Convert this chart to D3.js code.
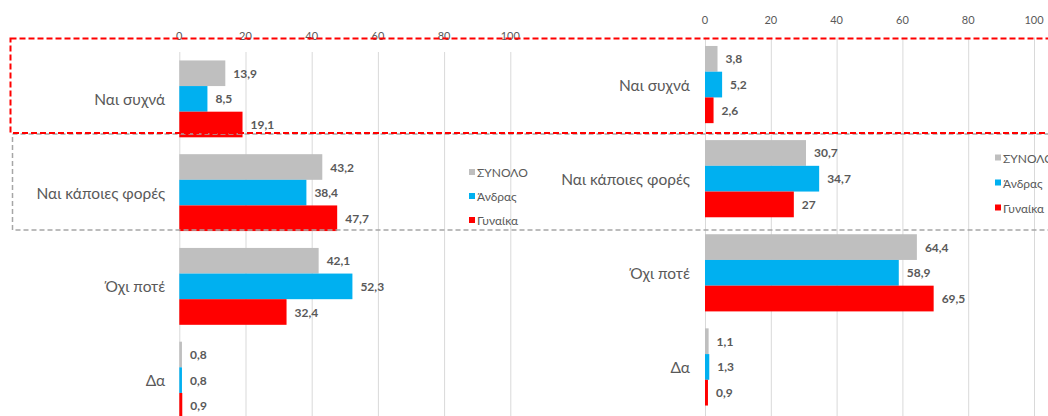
<!DOCTYPE html>
<html>
<head>
<meta charset="utf-8">
<script src="https://cdn.jsdelivr.net/npm/d3@7/dist/d3.min.js"></script>
<style>
  html, body { margin: 0; padding: 0; background: #ffffff; overflow: hidden; }
  svg { display: block; font-family: Lato, "Open Sans", "Noto Sans", sans-serif; }
</style>
</head>
<body>
<svg id="chart" width="1048" height="416"></svg>
<script>
const categories = ["Ναι συχνά", "Ναι κάποιες φορές", "Όχι ποτέ", "Δα"];
const seriesNames = ["ΣΥΝΟΛΟ", "Άνδρας", "Γυναίκα"];
const seriesColors = ["#bfbfbf", "#00b0f0", "#ff0000"];
const tickValues = [0, 20, 40, 60, 80, 100];

// left panel
const leftTotal = [13.9, 43.2, 42.1, 0.8];
const leftMen = [8.5, 38.4, 52.3, 0.8];
const leftWomen = [19.1, 47.7, 32.4, 0.9];
// right panel
const rightTotal = [3.8, 30.7, 64.4, 1.1];
const rightMen = [5.2, 34.7, 58.9, 1.3];
const rightWomen = [2.6, 27, 69.5, 0.9];

const svg = d3.select("#chart");
const fmt = v => String(v).replace(".", ",");

function panel(cfg) {
  const g = svg.append("g");
  const x = d3.scaleLinear().domain([0, 100]).range([cfg.x0, cfg.x1]);
  const y = d3.scaleBand().domain(categories).range([cfg.yTop, cfg.yBot])
    .paddingInner(0.18).paddingOuter(0.09);
  const sub = d3.scaleBand().domain(seriesNames).range([0, y.bandwidth()]);
  const series = cfg.series;

  // gridlines
  g.append("g").selectAll("line").data(tickValues).join("line")
    .attr("x1", d => x(d) + 0.5).attr("x2", d => x(d) + 0.5)
    .attr("y1", cfg.yTop).attr("y2", 416)
    .attr("stroke", "#d9d9d9").attr("stroke-width", 1);

  // tick labels
  g.append("g").selectAll("text").data(tickValues).join("text")
    .attr("x", d => x(d)).attr("y", cfg.tickY)
    .attr("text-anchor", "middle").attr("dominant-baseline", "central")
    .attr("font-size", 11).attr("fill", "#595959")
    .text(d => d);

  // bars
  seriesNames.forEach((s, si) => {
    const gs = g.append("g");
    gs.selectAll("rect").data(categories).join("rect")
      .attr("x", x(0))
      .attr("y", c => y(c) + sub(s))
      .attr("width", (c, i) => x(series[si][i]) - x(0))
      .attr("height", sub.bandwidth())
      .attr("fill", seriesColors[si]);
    gs.selectAll("text").data(categories).join("text")
      .attr("x", (c, i) => x(series[si][i]) + 8)
      .attr("y", c => y(c) + sub(s) + sub.bandwidth() / 2)
      .attr("dominant-baseline", "central")
      .attr("font-size", 12).attr("font-weight", "bold").attr("fill", "#595959")
      .text((c, i) => fmt(series[si][i]));
  });

  // category labels
  g.append("g").selectAll("text").data(categories).join("text")
    .attr("x", x(0) - cfg.labelGap)
    .attr("y", c => y(c) + y.bandwidth() / 2)
    .attr("text-anchor", "end").attr("dominant-baseline", "central")
    .attr("font-size", 15.5).attr("fill", "#595959")
    .text(c => c);

  // legend
  const lg = g.append("g");
  seriesNames.forEach((s, si) => {
    const ly = cfg.legendY + si * cfg.legendStep;
    lg.append("rect").attr("x", cfg.legendX).attr("y", ly - 3.5)
      .attr("width", 6).attr("height", 6).attr("fill", seriesColors[si]);
    lg.append("text").attr("x", cfg.legendX + 8).attr("y", ly)
      .attr("dominant-baseline", "central")
      .attr("font-size", 12).attr("fill", "#595959").text(s);
  });
}

panel({
  x0: 179.3, x1: 510.3, yTop: 52, yBot: 427, tickY: 35, labelGap: 14,
  legendX: 469, legendY: 172.5, legendStep: 24,
  series: [leftTotal, leftMen, leftWomen]
});
panel({
  x0: 705, x1: 1034, yTop: 37.5, yBot: 414, tickY: 19, labelGap: 15,
  legendX: 995, legendY: 158, legendStep: 25,
  series: [rightTotal, rightMen, rightWomen]
});

// highlight frames
svg.append("rect").attr("x", 12.5).attr("y", 134).attr("width", 1100).attr("height", 96)
  .attr("fill", "none").attr("stroke", "#a6a6a6").attr("stroke-width", 1.5)
  .attr("stroke-dasharray", "5,3");
svg.append("rect").attr("x", 10.5).attr("y", 38.5).attr("width", 1100).attr("height", 94.5)
  .attr("fill", "none").attr("stroke", "#ff0000").attr("stroke-width", 2)
  .attr("stroke-dasharray", "6,3");
</script>
</body>
</html>
